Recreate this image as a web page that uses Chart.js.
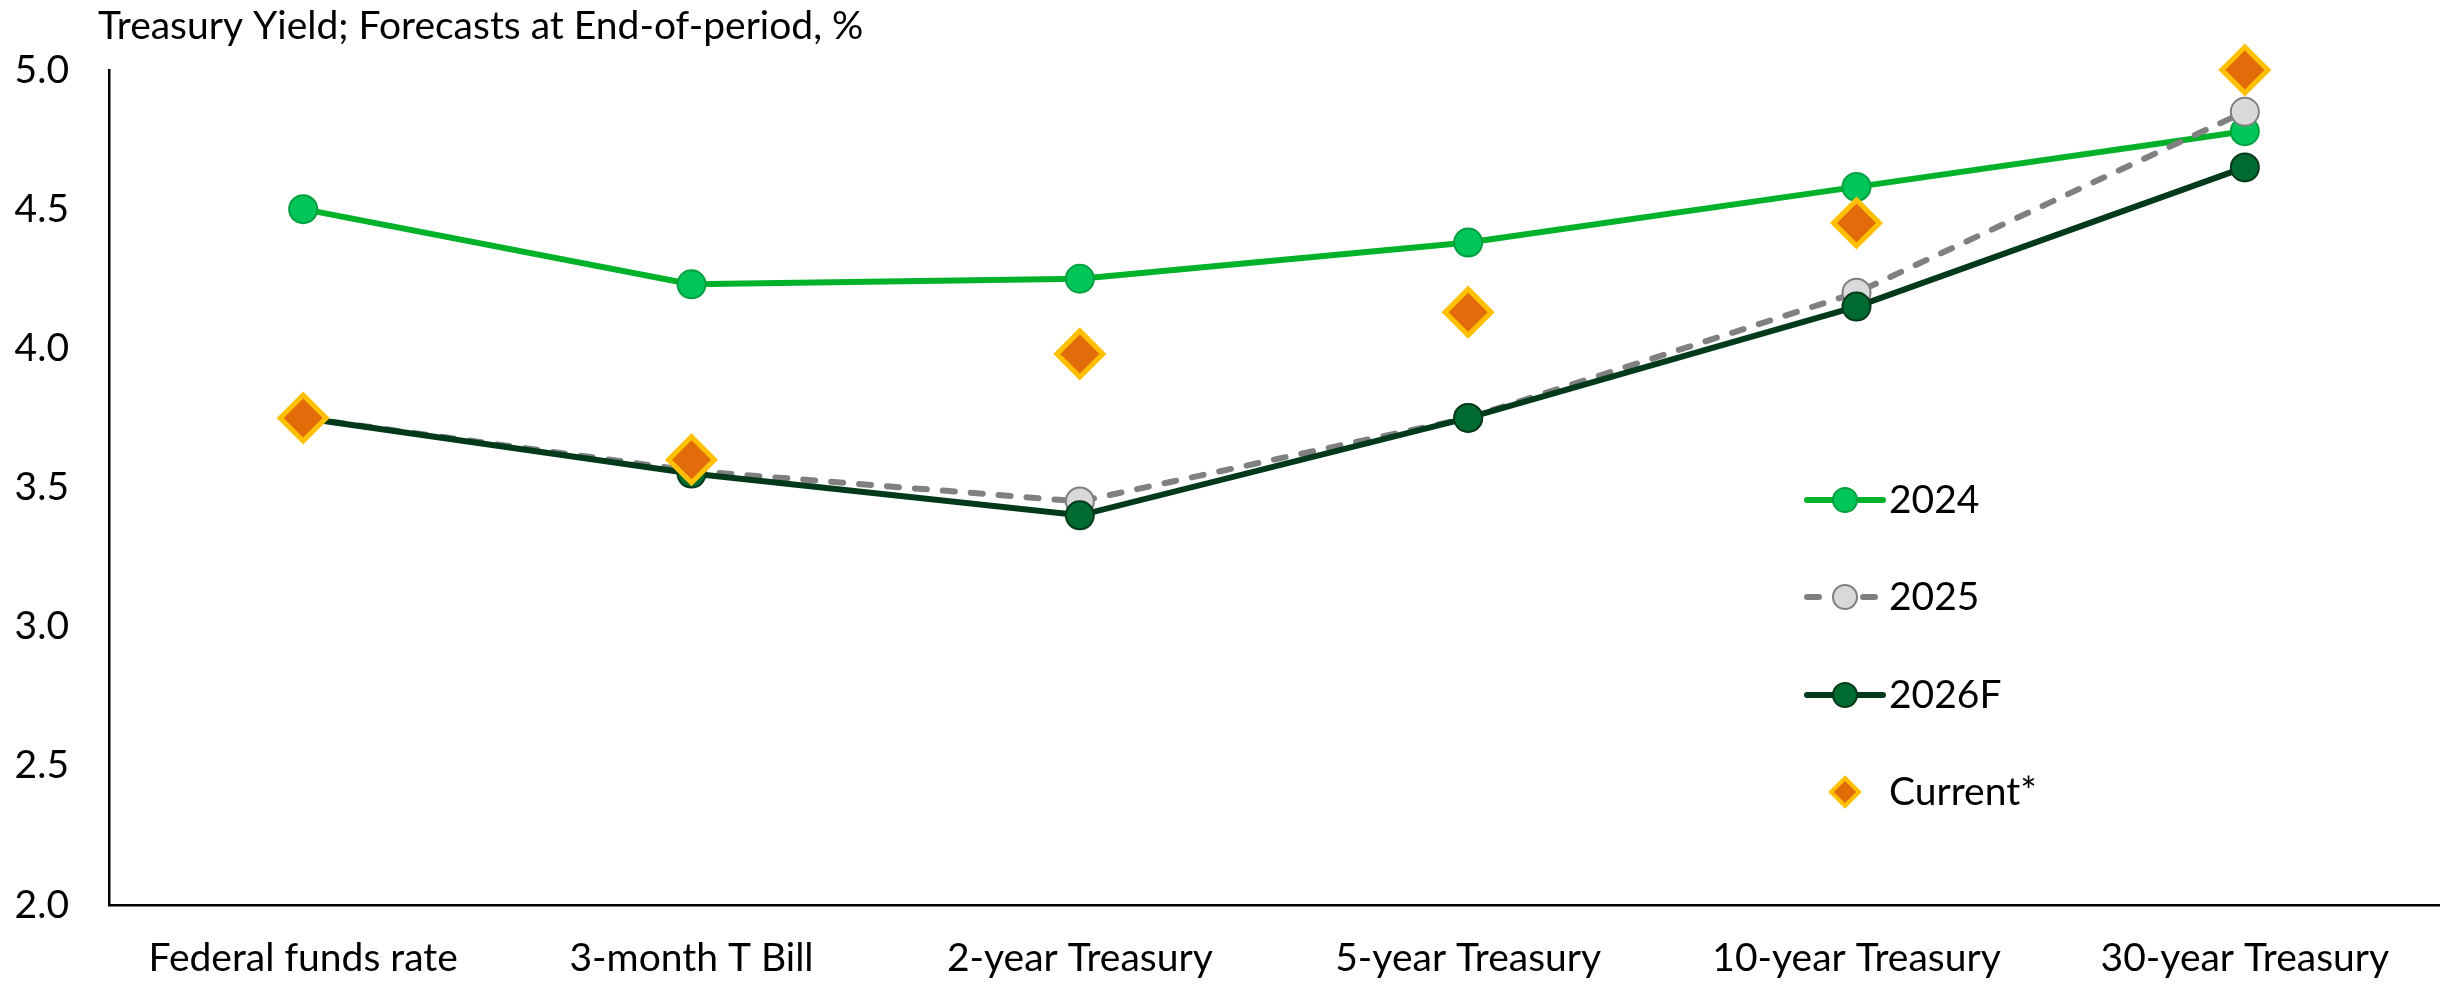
<!DOCTYPE html>
<html>
<head>
<meta charset="utf-8">
<title>Treasury Yield</title>
<script src="https://cdn.jsdelivr.net/npm/chart.js@4.4.1/dist/chart.umd.min.js"></script>
<style>
  html, body { margin: 0; padding: 0; background: #fff; overflow: hidden; }
  #wrap { width: 2448px; height: 985px; overflow: hidden; }
  #yield-chart { display: block; }
</style>
</head>
<body>
<div id="wrap"><canvas id="yield-chart" width="2448" height="985"></canvas></div>
<script>
const categories = ['Federal funds rate', '3-month T Bill', '2-year Treasury', '5-year Treasury', '10-year Treasury', '30-year Treasury'];
const yields2024 = [4.50, 4.23, 4.25, 4.38, 4.58, 4.78];
const yields2025 = [3.75, 3.56, 3.45, 3.75, 4.20, 4.85];
const yields2026F = [3.75, 3.55, 3.40, 3.75, 4.15, 4.65];
const yieldsCurrent = [3.75, 3.60, 3.98, 4.13, 4.45, 5.00];
const yTicks = [2.0, 2.5, 3.0, 3.5, 4.0, 4.5, 5.0];

const FONT = 'Lato, "Open Sans", sans-serif';
const FONT_SIZE = 39;

// title + legend drawn straight onto the canvas
const overlayPlugin = {
    id: 'overlay',
    afterDraw(chart) {
        const ctx = chart.ctx;
        const area = chart.chartArea;
        ctx.save();
        ctx.fillStyle = '#000';
        ctx.font = `${FONT_SIZE}px ${FONT}`;
        ctx.textBaseline = 'middle';
        ctx.textAlign = 'left';
        ctx.fillText('Treasury Yield; Forecasts at End-of-period, %', area.left - 11, 26);

        const lx = 1807, lw = 76, textX = 1889;
        const rows = [500, 597, 695, 792];
        const items = [chart.data.datasets[3], chart.data.datasets[2], chart.data.datasets[1], chart.data.datasets[0]];
        items.forEach((ds, i) => {
            const y = rows[i];
            const cx = lx + lw / 2;
            if (ds.showLine !== false) {
                ctx.beginPath();
                ctx.strokeStyle = ds.borderColor;
                ctx.lineWidth = ds.borderWidth;
                ctx.lineCap = 'round';
                ctx.setLineDash(ds.borderDash || []);
                ctx.moveTo(lx, y);
                ctx.lineTo(lx + lw, y);
                ctx.stroke();
                ctx.setLineDash([]);
                ctx.beginPath();
                ctx.arc(cx, y, 12, 0, Math.PI * 2);
                ctx.fillStyle = ds.pointBackgroundColor;
                ctx.fill();
                ctx.lineWidth = 2;
                ctx.strokeStyle = ds.pointBorderColor;
                ctx.stroke();
            } else {
                const r = 14;
                ctx.beginPath();
                ctx.moveTo(cx, y - r); ctx.lineTo(cx + r, y); ctx.lineTo(cx, y + r); ctx.lineTo(cx - r, y); ctx.closePath();
                ctx.fillStyle = ds.pointBackgroundColor;
                ctx.fill();
                ctx.lineWidth = 4;
                ctx.strokeStyle = ds.pointBorderColor;
                ctx.stroke();
            }
            ctx.fillStyle = '#000';
            ctx.fillText(ds.label, textX, y);
        });
        ctx.restore();
    }
};

new Chart(document.getElementById('yield-chart').getContext('2d'), {
    type: 'line',
    data: {
        labels: categories,
        datasets: [
            {
                label: 'Current*',
                data: yieldsCurrent,
                showLine: false,
                clip: false,
                pointStyle: 'rectRot',
                pointRadius: 23,
                pointBackgroundColor: '#E36C0A',
                pointBorderColor: '#FFC000',
                pointBorderWidth: 5,
                order: 0
            },
            {
                label: '2026F',
                data: yields2026F,
                clip: false,
                borderColor: '#003A1A',
                borderWidth: 6,
                pointRadius: 14,
                pointBackgroundColor: '#006B30',
                pointBorderColor: '#003A1A',
                pointBorderWidth: 2,
                order: 1
            },
            {
                label: '2025',
                data: yields2025,
                clip: false,
                borderColor: '#808080',
                borderWidth: 6,
                borderDash: [12, 16],
                borderCapStyle: 'round',
                pointRadius: 14,
                pointBackgroundColor: '#D9D9D9',
                pointBorderColor: '#808080',
                pointBorderWidth: 2,
                order: 2
            },
            {
                label: '2024',
                data: yields2024,
                clip: false,
                borderColor: '#00B22A',
                borderWidth: 6,
                pointRadius: 14,
                pointBackgroundColor: '#00C65A',
                pointBorderColor: '#00A040',
                pointBorderWidth: 2,
                order: 3
            }
        ]
    },
    options: {
        responsive: false,
        animation: false,
        layout: { autoPadding: false, padding: { top: 70, right: 9, left: 0, bottom: 0 } },
        plugins: {
            legend: { display: false },
            title: { display: false },
            tooltip: { enabled: false }
        },
        scales: {
            x: {
                offset: true,
                grid: { display: false, drawTicks: false },
                border: { display: true, color: '#000', width: 2.5 },
                ticks: { color: '#000', font: { family: FONT, size: FONT_SIZE }, padding: 30, maxRotation: 0, autoSkip: false },
                afterFit(scale) {
                    scale.height = 80;
                    scale.paddingLeft = 0;
                    scale.paddingRight = 0;
                }
            },
            y: {
                min: 2.0,
                max: 5.0,
                grid: { display: false, drawTicks: false },
                border: { display: true, color: '#000', width: 2.5 },
                afterBuildTicks(scale) { scale.ticks = yTicks.map(v => ({ value: v })); },
                ticks: {
                    color: '#000',
                    font: { family: FONT, size: FONT_SIZE },
                    padding: 40,
                    callback: v => v.toFixed(1)
                },
                afterFit(scale) { scale.width = 109; }
            }
        }
    },
    plugins: [overlayPlugin]
});
</script>
</body>
</html>
